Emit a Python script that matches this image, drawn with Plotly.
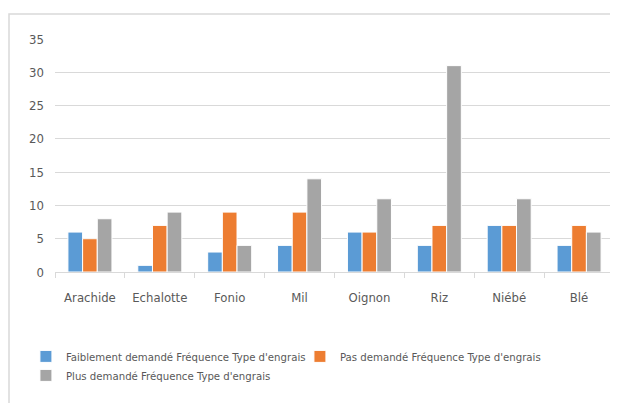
import plotly.graph_objects as go

categories = ["Arachide", "Echalotte", "Fonio", "Mil", "Oignon", "Riz", "Niébé", "Blé"]
faiblement = [6, 1, 3, 4, 6, 4, 7, 4]
pas_demande = [5, 7, 9, 9, 6, 7, 7, 7]
plus_demande = [8, 9, 4, 14, 11, 31, 11, 6]
series_names = [
    "Faiblement demandé Fréquence Type d'engrais",
    "Pas demandé Fréquence Type d'engrais",
    "Plus demandé Fréquence Type d'engrais",
]
colors = ["#5b9bd5", "#ed7d31", "#a5a5a5"]
y_ticks = [0, 5, 10, 15, 20, 25, 30, 35]

FONT = "Liberation Sans Narrow, DejaVu Sans Condensed, Arial Narrow, sans-serif"

fig = go.Figure()
for name, vals, c in zip(series_names, [faiblement, pas_demande, plus_demande], colors):
    fig.add_trace(go.Bar(x=categories, y=vals, name=name,
                         marker=dict(color=c, line=dict(color="white", width=1))))

fig.update_layout(
    width=610, height=395,
    margin=dict(l=47, r=4, t=31, b=131),
    paper_bgcolor="white", plot_bgcolor="white",
    barmode="group", bargap=0.37, bargroupgap=0,
    font=dict(family=FONT, size=13, color="#595959"),
    showlegend=True,
    legend=dict(orientation="h", x=-0.052, xanchor="left", y=-0.3, yanchor="top",
                entrywidth=229, entrywidthmode="pixels",
                font=dict(size=11.3, color="#595959"), traceorder="normal"),
    xaxis=dict(showline=True, linecolor="#d9d9d9", linewidth=1,
               ticks="outside", tickson="boundaries", ticklen=5, tickcolor="#d9d9d9",
               ticklabelstandoff=13, showgrid=False),
    yaxis=dict(range=[0, 35], tickvals=y_ticks, showgrid=True, gridcolor="#d9d9d9",
               gridwidth=1, zeroline=False, showline=False, ticks="",
               ticklabelstandoff=10),
    shapes=[dict(type="rect", xref="paper", yref="paper",
                 x0=-0.0823, x1=1.05, y0=-0.6, y1=1.107,
                 line=dict(color="#d9d9d9", width=1.5), fillcolor="rgba(0,0,0,0)")],
)

fig.write_html("out.html")
